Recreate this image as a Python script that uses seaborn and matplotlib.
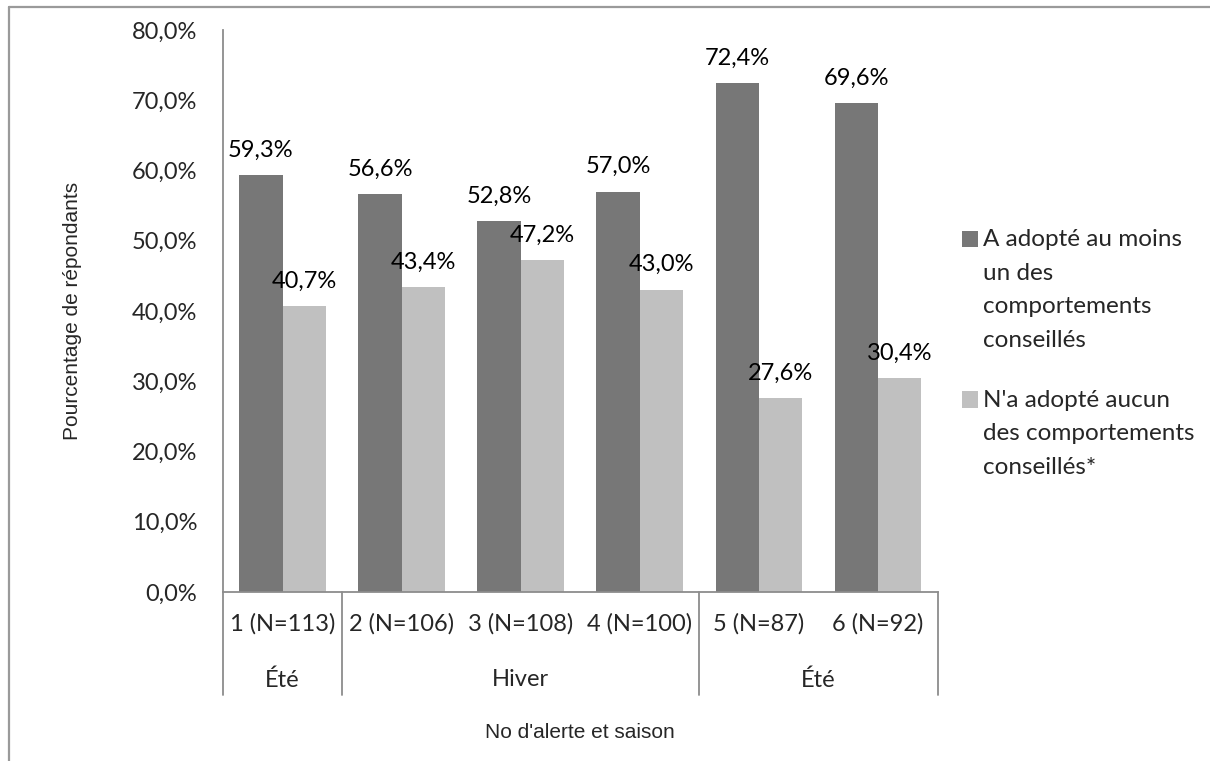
import matplotlib
matplotlib.use("Agg")
import matplotlib.pyplot as plt
import matplotlib.transforms as mtransforms
from matplotlib.lines import Line2D
from matplotlib.patches import Rectangle
from matplotlib.legend_handler import HandlerPatch
import seaborn as sns
import pandas as pd

# Data
alertes = ["1 (N=113)", "2 (N=106)", "3 (N=108)", "4 (N=100)", "5 (N=87)", "6 (N=92)"]
saisons = ["Été", "Hiver", "Hiver", "Hiver", "Été", "Été"]
adopte = [59.3, 56.6, 52.8, 57.0, 72.4, 69.6]
aucun = [40.7, 43.4, 47.2, 43.0, 27.6, 30.4]
series = [
    "A adopté au moins\nun des\ncomportements\nconseillés",
    "N'a adopté aucun\ndes comportements\nconseillés*",
]
y_ticks = [0, 10, 20, 30, 40, 50, 60, 70, 80]

colors = ["#777777", "#C0C0C0"]
axis_grey = "#8C8C8C"
body_font = ["Lato", "DejaVu Sans"]
title_font = ["Liberation Sans", "DejaVu Sans"]
FS = 17


def pct(v):
    return f"{v:.1f}%".replace(".", ",")


df = pd.DataFrame({
    "alerte": alertes * 2,
    "serie": [series[0]] * len(alertes) + [series[1]] * len(alertes),
    "pct": adopte + aucun,
})

sns.set_theme(style="white")
plt.rcParams["font.family"] = body_font

W, H = 1210, 761
fig = plt.figure(figsize=(W / 100, H / 100), dpi=100)
ax = fig.add_axes([223 / W, 1 - 592 / H, (937.5 - 223) / W, (592 - 30) / H])

sns.barplot(data=df, x="alerte", y="pct", hue="serie", order=alertes,
            hue_order=series, palette=colors, saturation=1, width=0.728,
            gap=0, linewidth=0, legend=False, ax=ax)

ax.set_xlim(-0.5, len(alertes) - 0.5)
ax.set_ylim(0, 80)
ax.set_yticks(y_ticks)
ax.set_yticklabels([pct(t) for t in y_ticks])
ax.tick_params(axis="y", length=0, pad=18.5, labelsize=FS)
ax.tick_params(axis="x", length=0, pad=15.5, labelsize=FS)

for side in ("top", "right"):
    ax.spines[side].set_visible(False)
for side in ("left", "bottom"):
    ax.spines[side].set_color(axis_grey)
    ax.spines[side].set_linewidth(1.3)

# Value labels above each bar
for container, vals in zip(ax.containers, [adopte, aucun]):
    ax.bar_label(container, labels=[pct(v) for v in vals], padding=10.5,
                 fontsize=FS, color="black")

# Second level of the category axis: seasons grouped by consecutive runs
trans = mtransforms.blended_transform_factory(ax.transData, ax.transAxes)
runs = []
start = 0
for i in range(1, len(saisons) + 1):
    if i == len(saisons) or saisons[i] != saisons[start]:
        runs.append((saisons[start], start, i - 1))
        start = i
sep_bottom = (592 - 695) / 562
row2_y = (592 - 680) / 562
bounds = {-0.5}
for name, a, b in runs:
    ax.text((a + b) / 2, row2_y, name, transform=trans, ha="center",
            va="center", fontsize=FS)
    bounds.add(a - 0.5)
    bounds.add(b + 0.5)
for xb in sorted(bounds):
    ax.add_line(Line2D([xb, xb], [0, sep_bottom], transform=trans,
                       color=axis_grey, lw=1.3, clip_on=False))

# Axis titles
ax.set_xlabel("No d'alerte et saison", fontfamily=title_font, fontsize=15,
              va="center")
ax.xaxis.set_label_coords(0.5, (592 - 733) / 562)
ax.set_ylabel("Pourcentage de répondants", fontfamily=title_font,
              fontsize=15, va="center")
ax.yaxis.set_label_coords((72 - 223) / 714.5, 0.5)

# Legend with the swatch aligned on the first line of each label
step_pt = 34 * 72 / 100


def swatch_at_first_line(n_lines):
    shift = (n_lines - 1) / 2 * step_pt

    def make(legend, orig_handle, xdescent, ydescent, width, height, fontsize):
        return Rectangle((-xdescent, -ydescent + shift), width, height)
    return HandlerPatch(patch_func=make)


handles = [Rectangle((0, 0), 1, 1, facecolor=c, edgecolor="none") for c in colors]
hmap = {h: swatch_at_first_line(lbl.count("\n") + 1) for h, lbl in zip(handles, series)}
leg = ax.legend(handles, series, handler_map=hmap, loc="upper left",
                bbox_to_anchor=(962 / W, 1 - 229 / H),
                bbox_transform=fig.transFigure, frameon=False, fontsize=17.5,
                handlelength=0.66, handleheight=0.66, handletextpad=0.2,
                labelspacing=1.6, borderpad=0, borderaxespad=0)
for t in leg.get_texts():
    t.set_linespacing(1.74)

# Chart frame (top and left edges)
fig.add_artist(Line2D([8.5 / W, 8.5 / W], [0, 1 - 6.5 / H],
                      transform=fig.transFigure, color="#9A9A9A", lw=1.6))
fig.add_artist(Line2D([8.5 / W, 1], [1 - 6.5 / H, 1 - 6.5 / H],
                      transform=fig.transFigure, color="#9A9A9A", lw=1.6))

fig.savefig("out.png", dpi=100, facecolor="white")
